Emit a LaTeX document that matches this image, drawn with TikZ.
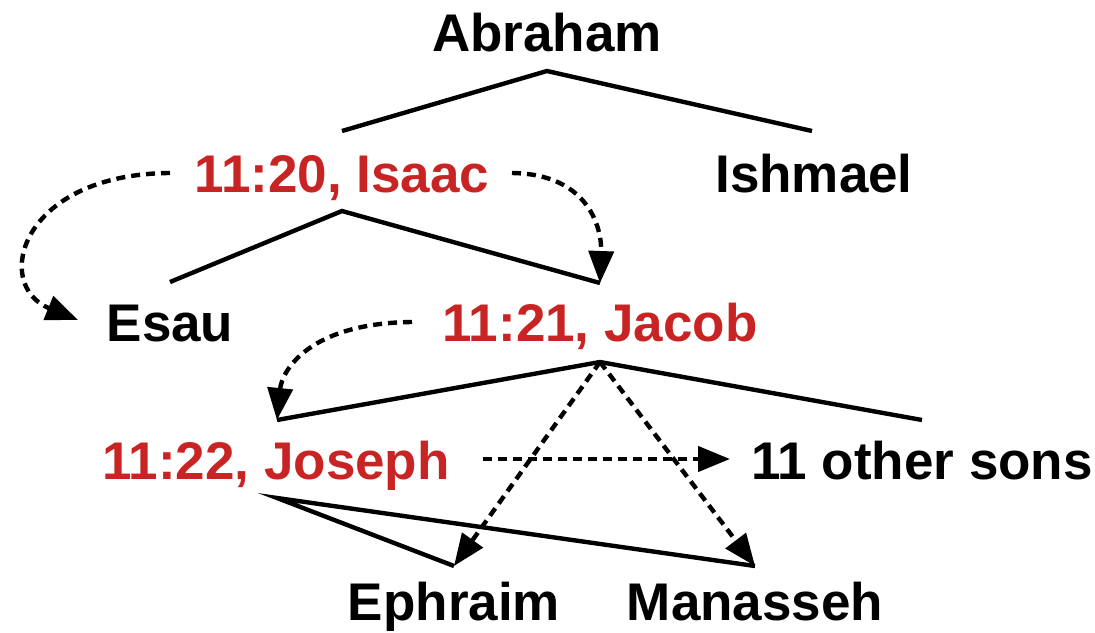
\documentclass[tikz,border=0pt]{standalone}
\usepackage{fontspec}
\setmainfont{Liberation Sans}
\usetikzlibrary{arrows.meta}
\definecolor{verse}{RGB}{200,36,36}
\begin{document}
\begin{tikzpicture}[x=1pt,y=-1pt,
  lbl/.style={anchor=base,inner sep=0pt,font=\fontsize{53}{60}\selectfont\bfseries},
  red/.style={lbl,text=verse},
  tree/.style={line width=4.4pt},
  link/.style={line width=4.4pt,dash pattern=on 9pt off 6pt,-{Triangle[length=32pt,width=25pt]}}]
\useasboundingbox (0,0) rectangle (1095,632);
\node[lbl] (abraham) at (547,51) {Abraham};
\node[red] (isaac) at (342,192) {11:20, Isaac};
\node[lbl] (ishmael) at (814,192) {Ishmael};
\node[lbl] (esau) at (170,341) {Esau};
\node[red] (jacob) at (600,341) {11:21, Jacob};
\node[red] (joseph) at (276,479) {11:22, Joseph};
\node[lbl] (others) at (922,479) {11 other sons};
\node[lbl] (ephraim) at (454,620) {Ephraim};
\node[lbl] (manasseh) at (755,620) {Manasseh};
% tree joints
\coordinate (abrB) at (547,71);
\coordinate (isaT) at (342,131);
\coordinate (ishT) at (812,131);
\coordinate (isaB) at (342,211);
\coordinate (esaT) at (170,282);
\coordinate (jacT) at (600,283);
\coordinate (jacB) at (600,362);
\coordinate (josT) at (277,420);
\coordinate (othT) at (922,420);
\coordinate (josB) at (277,498);
\coordinate (ephT) at (454,566);
\coordinate (manT) at (755,566);
% link ends
\coordinate (isaL) at (170,173);
\coordinate (isaR) at (512,173);
\coordinate (esaL) at (78,320);
\coordinate (jacL) at (412,322);
\coordinate (josR) at (483,459);
\coordinate (othL) at (730,459);
\draw[tree] (isaT) -- (abrB) -- (ishT);
\draw[tree] (esaT) -- (isaB) -- (jacT);
\draw[tree] (josT) -- (jacB) -- (othT);
\draw[tree] (ephT) -- (josB) -- (manT);
\draw[link] (isaL) .. controls (20,174) and (-8,285) .. (esaL);
\draw[link] (isaR) .. controls (590,174) and (602,230) .. (jacT);
\draw[link] (jacL) .. controls (310,323) and (282,370) .. (josT);
\draw[link] (jacB) -- (ephT);
\draw[link] (jacB) -- (manT);
\draw[link] (josR) -- (othL);
\end{tikzpicture}
\end{document}
